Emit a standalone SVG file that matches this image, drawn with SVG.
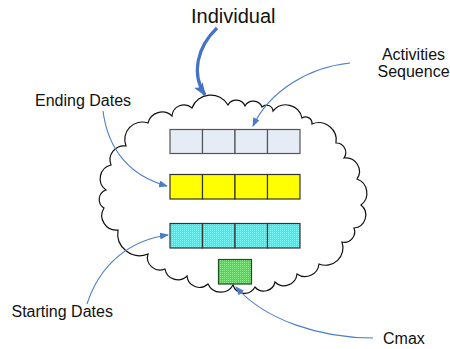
<svg xmlns="http://www.w3.org/2000/svg" width="450" height="349" viewBox="0 0 450 349">
  <defs>
    <style>
      .lbl { font-family: "Liberation Sans", Arial, sans-serif; fill: #111; }
      .thin { fill: none; stroke: #4A7CC9; stroke-width: 1.1; }
      .thick { fill: none; stroke: #4472C4; stroke-width: 3.2; }
      .cell { stroke: #333; stroke-width: 1.2; }
      .seq { fill: #E6ECF6; stroke: #555; }
      .end { fill: #FFFF00; }
      .start { fill: url(#cyanDots); }
      .cmax { fill: url(#greenDots); stroke: #1E4D1E; }
    </style>
    <pattern id="cyanDots" width="2" height="2" patternUnits="userSpaceOnUse">
      <rect width="2" height="2" fill="#30F0F8"/>
      <rect width="1" height="1" fill="#80FFFF"/>
    </pattern>
    <pattern id="greenDots" width="2" height="2" patternUnits="userSpaceOnUse">
      <rect width="2" height="2" fill="#4CD85C"/>
      <rect width="1" height="1" fill="#8CF08C"/>
    </pattern>
    <marker id="ahThin" markerWidth="9" markerHeight="7" refX="8" refY="3.5" orient="auto" markerUnits="userSpaceOnUse">
      <path d="M0,0 L9,3.5 L0,7 Z" fill="#4A7CC9"/>
    </marker>
    <marker id="ahThick" markerWidth="14" markerHeight="10" refX="12" refY="5" orient="auto" markerUnits="userSpaceOnUse">
      <path d="M0,0 L14,5 L0,10 L3,5 Z" fill="#4472C4"/>
    </marker>
  </defs>

  <g id="cloud">
    <path fill="#FFFFFF" stroke="#111" stroke-width="1.2" d="M172,116
      A12,12 0 0 1 192,108
      A20,20 0 0 1 228,105
      A9.5,9.5 0 0 1 245,106
      A9.5,9.5 0 0 1 262,107
      A6.5,6.5 0 0 1 273,111
      A16.5,16.5 0 0 1 302,118
      A6.5,6.5 0 0 1 312,124
      A17.5,17.5 0 0 1 336,143
      A9.5,9.5 0 0 1 344,158
      A13.5,13.5 0 0 1 357,179
      A15,15 0 0 1 361,205
      A13,13 0 0 1 354,228
      A10.5,10.5 0 0 1 342,242
      A17.5,17.5 0 0 1 319,264
      A14,14 0 0 1 297,274
      A13,13 0 0 1 275,282
      A11.5,11.5 0 0 1 255,287
      A12,12 0 0 1 233,285
      A14,14 0 0 1 208,284
      A12.5,12.5 0 0 1 187,276
      A13,13 0 0 1 165,269
      A12.5,12.5 0 0 1 148,254
      A22,22 0 0 1 118,230
      A14.5,14.5 0 0 1 104,208
      A10,10 0 0 1 106,190
      A14,14 0 0 1 111,165
      A14,14 0 0 1 126,146
      A17.5,17.5 0 0 1 148,123
      A14.5,14.5 0 0 1 172,116 Z"/>
  </g>

  <g id="activities-sequence">
    <rect class="cell seq" x="170" y="129.5" width="32.5" height="24"/>
    <rect class="cell seq" x="202.5" y="129.5" width="32.5" height="24"/>
    <rect class="cell seq" x="235" y="129.5" width="32.5" height="24"/>
    <rect class="cell seq" x="267.5" y="129.5" width="32.5" height="24"/>
  </g>

  <g id="ending-dates-row">
    <rect class="cell end" x="170" y="174.5" width="32.5" height="24.5"/>
    <rect class="cell end" x="202.5" y="174.5" width="32.5" height="24.5"/>
    <rect class="cell end" x="235" y="174.5" width="32.5" height="24.5"/>
    <rect class="cell end" x="267.5" y="174.5" width="32.5" height="24.5"/>
  </g>

  <g id="starting-dates-row">
    <rect class="cell start" x="170" y="223.5" width="32.5" height="24.5"/>
    <rect class="cell start" x="202.5" y="223.5" width="32.5" height="24.5"/>
    <rect class="cell start" x="235" y="223.5" width="32.5" height="24.5"/>
    <rect class="cell start" x="267.5" y="223.5" width="32.5" height="24.5"/>
  </g>

  <g id="cmax-box">
    <rect class="cell cmax" x="218.5" y="259.5" width="33" height="24.5"/>
  </g>

  <g id="connectors">
    <path class="thick" d="M217,28 C197,47 191,74 205,95" marker-end="url(#ahThick)"/>
    <path class="thin" d="M350,63 C310,67 270,90 253,126" marker-end="url(#ahThin)"/>
    <path class="thin" d="M103,111 C108,150 130,176 167,186" marker-end="url(#ahThin)"/>
    <path class="thin" d="M87,304 C100,264 130,240 168,235" marker-end="url(#ahThin)"/>
    <path class="thin" d="M373,338 C320,338 265,320 236,287" marker-end="url(#ahThin)"/>
  </g>

  <g id="labels">
    <text class="lbl" x="233.3" y="23" font-size="20" text-anchor="middle">Individual</text>
    <text class="lbl" x="413.5" y="59.5" font-size="16" text-anchor="middle">Activities</text>
    <text class="lbl" x="413.5" y="77" font-size="16" text-anchor="middle">Sequence</text>
    <text class="lbl" x="35" y="106" font-size="16">Ending Dates</text>
    <text class="lbl" x="11.5" y="316.5" font-size="16">Starting Dates</text>
    <text class="lbl" x="383" y="343.5" font-size="16">Cmax</text>
  </g>
</svg>
